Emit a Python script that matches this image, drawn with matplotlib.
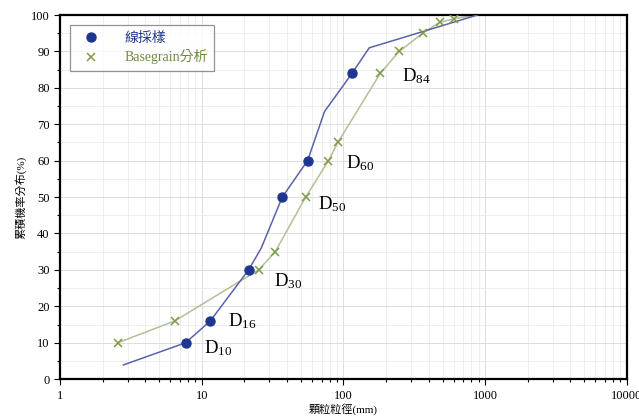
import matplotlib
matplotlib.use("Agg")
import matplotlib.pyplot as plt
from matplotlib.ticker import FixedLocator, NullFormatter

plt.rcParams['font.family'] = ['Liberation Serif', 'Noto Sans CJK TC']
plt.rcParams['mathtext.fontset'] = 'custom'
plt.rcParams['mathtext.rm'] = 'Liberation Serif'

# 線採樣 (line sampling) curve and its D points
line_x = [2.8, 7.7, 11.5, 21.4, 26.3, 37.0, 55.8, 73.5, 115, 152, 880]
line_y = [3.9, 10, 16, 30, 36, 50, 60, 73.5, 84, 91, 100]
line_px = [7.7, 11.5, 21.4, 37.0, 55.8, 115]
line_py = [10, 16, 30, 50, 60, 84]

# Basegrain analysis
bg_x = [2.56, 6.46, 25.2, 33.0, 54.1, 78.4, 91.3, 182, 247, 362, 478, 605, 860]
bg_y = [10, 16, 30, 35, 50, 60, 65, 84, 90, 95, 98, 99, 100]
bg_px = bg_x[:-1]
bg_py = bg_y[:-1]

d_labels = ['10', '16', '30', '50', '60', '84']
d_lx = [10.3, 15.2, 32.3, 65.6, 105, 260]
d_ly = [8.6, 15.8, 27.0, 48.0, 59.3, 83.3]

fig = plt.figure(figsize=(6.39, 4.18), dpi=100)
ax = fig.add_axes([0.094, 0.093, 0.887, 0.871])

ax.plot(line_x, line_y, color='#5b63a8', lw=1.1, zorder=3)
ax.plot(line_px, line_py, 'o', color='#1f3691', ms=6.5, zorder=4, label='線採樣')
ax.plot(bg_x, bg_y, color='#b3bf97', lw=1.1, zorder=2)
ax.plot(bg_px, bg_py, 'x', color='#7d9b45', ms=6, mew=1.1, zorder=4, label='Basegrain分析')

for lab, x, y in zip(d_labels, d_lx, d_ly):
    ax.text(x, y, r'$\mathregular{D_{%s}}$' % lab, fontsize=13.5, va='center',
            ha='left', color='black')

ax.set_xscale('log')
ax.set_xlim(1, 10000)
ax.set_ylim(0, 100)
ax.xaxis.set_major_locator(FixedLocator([1, 10, 100, 1000, 10000]))
ax.set_xticklabels(['1', '10', '100', '1000', '10000'])
ax.xaxis.set_minor_formatter(NullFormatter())
ax.set_yticks(range(0, 101, 10))
ax.set_yticks(range(5, 100, 10), minor=True)

ax.grid(True, which='major', color='#dddddd', lw=0.7)
ax.grid(True, which='minor', color='#ebebeb', lw=0.6)
ax.set_axisbelow(True)

for s in ax.spines.values():
    s.set_linewidth(1.6)
    s.set_color('black')
ax.tick_params(which='both', direction='out', labelsize=9, width=0.8)
ax.tick_params(which='major', length=4)
ax.tick_params(which='minor', length=2.5)

ax.set_xlabel('顆粒粒徑(mm)', fontsize=8, labelpad=1)
ax.set_ylabel('累積機率分布(%)', fontsize=8, labelpad=3)

leg = ax.legend(loc='upper left', bbox_to_anchor=(0.01, 0.985), fontsize=10,
                frameon=True, fancybox=False, edgecolor='#777777',
                borderpad=0.5, handletextpad=1.4, labelspacing=0.35,
                borderaxespad=0.3)
leg.get_frame().set_linewidth(0.9)
leg.get_texts()[0].set_color('#1f3691')
leg.get_texts()[1].set_color('#6f8a3c')

fig.savefig('out.png', dpi=100)
